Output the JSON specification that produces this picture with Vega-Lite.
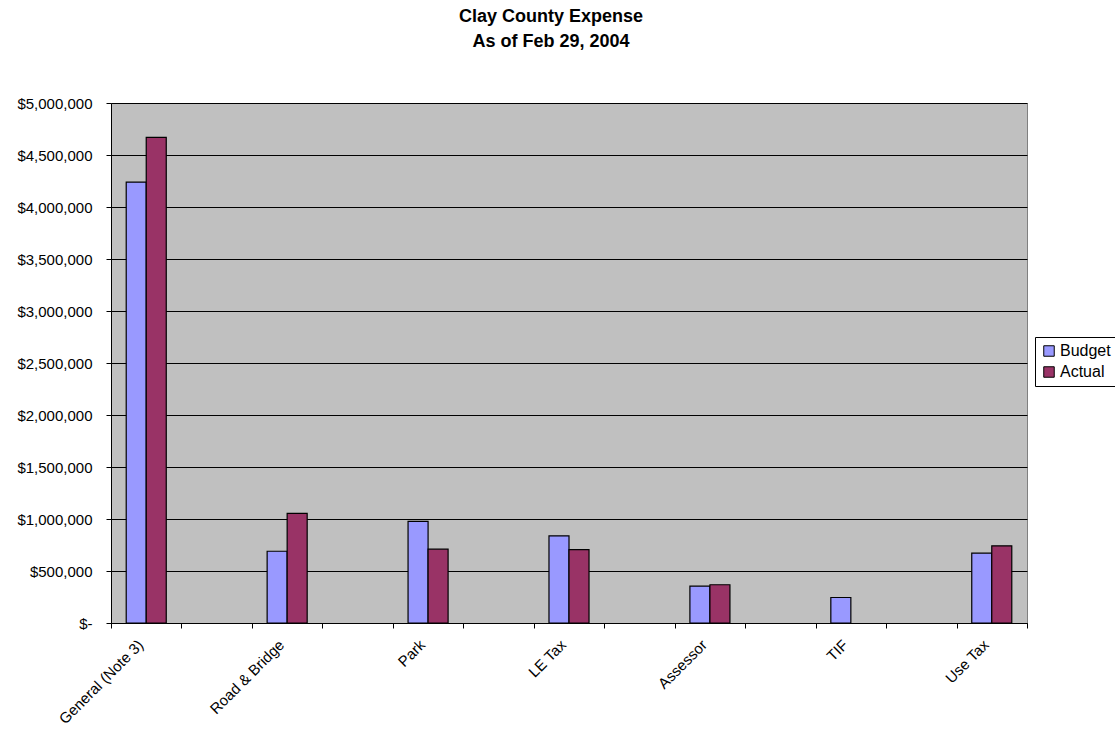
{
  "$schema": "https://vega.github.io/schema/vega-lite/v6.json",
  "width": 916,
  "height": 520,
  "autosize": {"type": "none"},
  "padding": {"left": 111, "top": 103, "right": 88, "bottom": 115},
  "background": "white",
  "title": {
    "text": ["Clay County Expense", "As of Feb 29, 2004"],
    "font": "Liberation Sans",
    "fontSize": 18,
    "fontWeight": "bold",
    "color": "black",
    "anchor": "middle",
    "dx": -18,
    "offset": 45,
    "lineHeight": 25
  },
  "config": {
    "view": {"fill": "#C0C0C0", "stroke": "#808080", "strokeWidth": 1},
    "font": "Liberation Sans"
  },
  "data": {
    "values": [
      {"category": "General (Note 3)", "series": "Budget", "amount": 4240000},
      {"category": "General (Note 3)", "series": "Actual", "amount": 4670000},
      {"category": "Road & Bridge", "series": "Budget", "amount": 690000},
      {"category": "Road & Bridge", "series": "Actual", "amount": 1054000},
      {"category": "Park", "series": "Budget", "amount": 977000},
      {"category": "Park", "series": "Actual", "amount": 710000},
      {"category": "LE Tax", "series": "Budget", "amount": 838000},
      {"category": "LE Tax", "series": "Actual", "amount": 706000},
      {"category": "Assessor", "series": "Budget", "amount": 355000},
      {"category": "Assessor", "series": "Actual", "amount": 368000},
      {"category": "TIF", "series": "Budget", "amount": 245000},
      {"category": "Use Tax", "series": "Budget", "amount": 671000},
      {"category": "Use Tax", "series": "Actual", "amount": 742000}
    ]
  },
  "mark": {"type": "bar", "stroke": "black", "strokeWidth": 1.2},
  "encoding": {
    "x": {
      "field": "category",
      "type": "nominal",
      "sort": null,
      "scale": {
        "domain": ["General (Note 3)", "~1", "Road & Bridge", "~2", "Park", "~3", "LE Tax", "~4", "Assessor", "~5", "TIF", "~6", "Use Tax"],
        "paddingInner": 0,
        "paddingOuter": 0
      },
      "axis": {
        "title": null,
        "labelAngle": -45,
        "labelAlign": "right",
        "labelBaseline": "middle",
        "labelFontSize": 15,
        "labelColor": "black",
        "labelPadding": 14,
        "labelOffset": -6,
        "labelExpr": "substring(datum.value,0,1)=='~' ? '' : datum.value",
        "tickBand": "extent",
        "tickSize": 5,
        "tickColor": "black",
        "domainColor": "black",
        "grid": false
      }
    },
    "xOffset": {
      "field": "series",
      "type": "nominal",
      "sort": ["Budget", "Actual"],
      "scale": {"domain": ["Budget", "Actual"], "paddingInner": 0, "paddingOuter": 0.76}
    },
    "y": {
      "field": "amount",
      "type": "quantitative",
      "scale": {"domain": [0, 5000000], "nice": false},
      "axis": {
        "title": null,
        "values": [0, 500000, 1000000, 1500000, 2000000, 2500000, 3000000, 3500000, 4000000, 4500000, 5000000],
        "labelExpr": "datum.value == 0 ? '$-' : '$' + format(datum.value, ',')",
        "labelFontSize": 15,
        "labelColor": "black",
        "labelPadding": 14,
        "tickSize": 5,
        "tickColor": "black",
        "domainColor": "black",
        "grid": true,
        "gridColor": "black",
        "gridWidth": 1
      }
    },
    "color": {
      "field": "series",
      "type": "nominal",
      "sort": ["Budget", "Actual"],
      "scale": {"domain": ["Budget", "Actual"], "range": ["#9999FF", "#993366"]},
      "legend": {
        "title": null,
        "orient": "none",
        "legendX": 924,
        "legendY": 234,
        "symbolType": "square",
        "symbolSize": 110,
        "symbolStrokeColor": "black",
        "symbolStrokeWidth": 1,
        "symbolOpacity": 1,
        "labelFontSize": 16,
        "labelColor": "black",
        "labelOffset": 3,
        "rowPadding": 5,
        "padding": 6,
        "strokeColor": "black",
        "fillColor": "white"
      }
    }
  }
}
